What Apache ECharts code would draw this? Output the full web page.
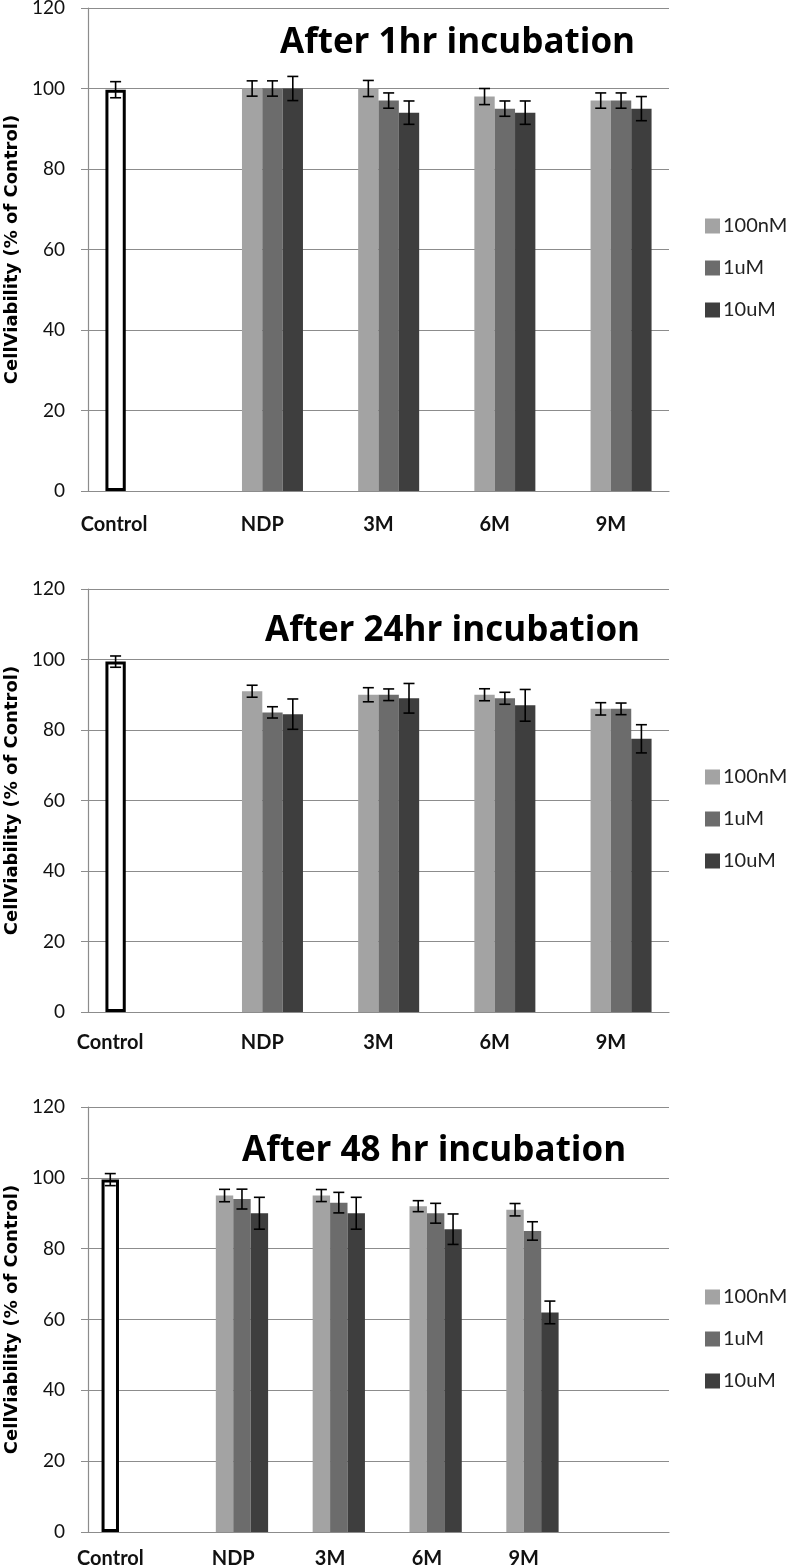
<!DOCTYPE html>
<html><head><meta charset="utf-8">
<script src="https://cdn.jsdelivr.net/npm/echarts@6/dist/echarts.min.js"></script>
<style>html,body{margin:0;padding:0;background:#fff}#c{width:794px;height:1567px}</style>
</head><body><div id="c"></div>
<script>
// ---- data ----
const categoriesAB = ['Control', 'NDP', '3M', '6M', '9M'];
const categoriesC = ['Control', 'NDP', '3M', '6M', '9M', ''];
const seriesNames = ['100nM', '1uM', '10uM'];
const titles = ['After 1hr incubation', 'After 24hr incubation', 'After 48 hr incubation'];
const yAxisName = 'CellViability (% of Control)';

// After 1hr
const control1 = 99.7, control1Err = 2.0;
const nM100_1 = [100, 100, 98, 97];   const nM100_1Err = [1.9, 2.0, 2.0, 1.9];
const uM1_1   = [100, 97, 95, 97];    const uM1_1Err   = [1.9, 1.9, 1.9, 1.9];
const uM10_1  = [100, 94, 94, 95];    const uM10_1Err  = [3.0, 2.9, 2.9, 3.0];

// After 24hr
const control2 = 99.4, control2Err = 1.6;
const nM100_2 = [91, 90, 90, 86];     const nM100_2Err = [1.7, 2.0, 1.7, 1.75];
const uM1_2   = [85, 90, 89, 86];     const uM1_2Err   = [1.6, 1.65, 1.7, 1.65];
const uM10_2  = [84.5, 89, 87, 77.5]; const uM10_2Err  = [4.3, 4.2, 4.5, 4.0];

// After 48hr
const control3 = 99.5, control3Err = 1.7;
const nM100_3 = [95, 95, 92, 91];     const nM100_3Err = [1.75, 1.7, 1.55, 1.75];
const uM1_3   = [94, 93, 90, 85];     const uM1_3Err   = [2.8, 2.9, 2.8, 2.6];
const uM10_3  = [90, 90, 85.5, 62];   const uM10_3Err  = [4.5, 4.5, 4.3, 3.2];

// ---- styling / layout ----
const colors = ['#a3a3a3', '#6c6c6c', '#3e3e3e'];
const gridColor = '#8c8c8c';
const FONT = 'Lato';
const TITLE_FONT = 'Open Sans';

const panels = [
  {cats: categoriesAB, control: control1, controlErr: control1Err,
   vals: [nM100_1, uM1_1, uM10_1], errs: [nM100_1Err, uM1_1Err, uM10_1Err],
   top: 8, height: 483, gap: 0.30, titleLeft: 280, titleTop: 26, legendTop: 216, labelMargin: 24, ctrlShift: 64},
  {cats: categoriesAB, control: control2, controlErr: control2Err,
   vals: [nM100_2, uM1_2, uM10_2], errs: [nM100_2Err, uM1_2Err, uM10_2Err],
   top: 589, height: 423, gap: 0.30, titleLeft: 265, titleTop: 614, legendTop: 767, labelMargin: 21, ctrlShift: 72},
  {cats: categoriesC, control: control3, controlErr: control3Err,
   vals: [nM100_3, uM1_3, uM10_3], errs: [nM100_3Err, uM1_3Err, uM10_3Err],
   top: 1107, height: 425, gap: 0.28, titleLeft: 242, titleTop: 1134, legendTop: 1287, labelMargin: 17, ctrlShift: 52}
];

function errRender(gap) {
  return function (params, api) {
    const idx = api.value(0), lo = api.value(1), hi = api.value(2), slot = api.value(3);
    const band = api.size([1, 0])[0];
    const bw = band * (1 - gap) / 4;
    const pLo = api.coord([idx, lo]);
    const pHi = api.coord([idx, hi]);
    const cx = pLo[0] + (slot - 1.5) * bw;
    const h = 5.5;
    const st = {stroke: '#000', lineWidth: 1.6};
    return {type: 'group', children: [
      {type: 'line', shape: {x1: cx, y1: pHi[1], x2: cx, y2: pLo[1]}, style: st},
      {type: 'line', shape: {x1: cx - h, y1: pHi[1], x2: cx + h, y2: pHi[1]}, style: st},
      {type: 'line', shape: {x1: cx - h, y1: pLo[1], x2: cx + h, y2: pLo[1]}, style: st}
    ]};
  };
}

const option = {
  animation: false,
  backgroundColor: '#fff',
  textStyle: {fontFamily: FONT},
  title: [], legend: [], grid: [], xAxis: [], yAxis: [], series: []
};

panels.forEach((p, k) => {
  option.title.push({
    text: titles[k], left: p.titleLeft, top: p.titleTop, padding: 0,
    textStyle: {fontFamily: TITLE_FONT, fontWeight: 'bold', fontSize: 35, color: '#000'}
  });
  option.legend.push({
    data: seriesNames, orient: 'vertical', left: 705, top: p.legendTop, padding: 0,
    itemWidth: 15, itemHeight: 15, itemGap: 22, icon: 'rect', selectedMode: false,
    textStyle: {fontFamily: FONT, fontSize: 20, color: '#222', padding: [0, 0, 0, -2]}
  });
  option.grid.push({left: 88, right: 125, top: p.top, height: p.height, containLabel: false, outerBoundsMode: 'none'});
  option.xAxis.push({
    type: 'category', gridIndex: k, data: p.cats,
    axisLine: {lineStyle: {color: gridColor, width: 1.2}},
    axisTick: {show: false},
    axisLabel: {
      margin: p.labelMargin, color: '#111', fontFamily: FONT, fontWeight: 'bold', fontSize: 20,
      interval: 0,
      formatter: v => v === 'Control' ? '{c|Control}' : v,
      rich: {c: {fontFamily: FONT, fontWeight: 'bold', fontSize: 20, color: '#111', padding: [0, p.ctrlShift, 0, 0]}}
    }
  });
  option.yAxis.push({
    type: 'value', gridIndex: k, min: 0, max: 120, interval: 20,
    name: yAxisName, nameLocation: 'middle', nameGap: 62, nameRotate: 90,
    nameTextStyle: {fontFamily: 'DejaVu Sans', fontWeight: 'bold', fontSize: 18, color: '#000'},
    axisLine: {show: true, lineStyle: {color: gridColor, width: 1.2}},
    axisTick: {show: true, length: 7, lineStyle: {color: gridColor}},
    axisLabel: {margin: 23, color: '#111', fontFamily: FONT, fontSize: 19},
    splitLine: {show: true, lineStyle: {color: gridColor, width: 1.2}}
  });
  const gapStr = (p.gap * 100) + '%';
  const ctrlData = p.cats.map((c, i) => i === 0 ? p.control : '-');
  option.series.push({
    type: 'bar', name: 'Control', xAxisIndex: k, yAxisIndex: k, data: ctrlData,
    barGap: '0%', barCategoryGap: gapStr,
    itemStyle: {color: '#fff', borderColor: '#000', borderWidth: 3}
  });
  seriesNames.forEach((nm, s) => {
    const d = p.cats.map((c, i) => (i >= 1 && i <= 4) ? p.vals[s][i - 1] : '-');
    option.series.push({
      type: 'bar', name: nm, xAxisIndex: k, yAxisIndex: k, data: d,
      barGap: '0%', barCategoryGap: gapStr,
      itemStyle: {color: colors[s]}
    });
  });
  const errData = [[0, p.control - p.controlErr, p.control + p.controlErr, 0]];
  seriesNames.forEach((nm, s) => {
    p.vals[s].forEach((v, i) => {
      errData.push([i + 1, v - p.errs[s][i], v + p.errs[s][i], s + 1]);
    });
  });
  option.series.push({
    type: 'custom', name: 'err' + k, xAxisIndex: k, yAxisIndex: k, z: 10,
    renderItem: errRender(p.gap), data: errData, encode: {x: 0, y: [1, 2]}, silent: true
  });
});

const chart = echarts.init(document.getElementById('c'), null, {renderer: 'canvas'});
chart.setOption(option);
</script>
</body></html>
